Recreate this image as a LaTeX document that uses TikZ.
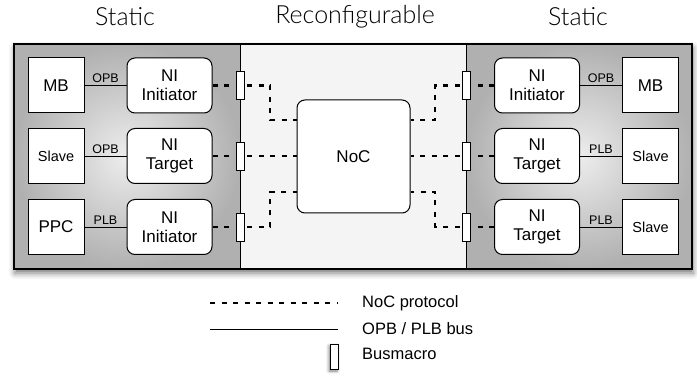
\documentclass[tikz,border=0pt]{standalone}
\usepackage{fontspec}
\setmainfont{Liberation Sans}
\newfontfamily\titlefont{Lato}[UprightFont=* Light]
\usetikzlibrary{positioning,shadows.blur}

\tikzset{
  plainbox/.style={draw, line width=1pt, fill=white, minimum width=56pt, minimum height=55pt, inner sep=0pt, font=\fontsize{17}{19}\selectfont},
  nibox/.style={plainbox, rounded corners=8pt, minimum width=85pt, align=center},
  busmacro/.style={draw, line width=0.8pt, fill=white, minimum width=8pt, minimum height=28pt, inner sep=0pt},
  nocline/.style={line width=2.8pt, dash pattern=on 5pt off 6.5pt},
  busline/.style={line width=0.8pt},
  buslabel/.style={above, inner sep=2pt, font=\fontsize{12.5}{13}\selectfont},
  title/.style={font=\titlefont\fontsize{25}{25}\selectfont},
  legendtext/.style={anchor=west, inner sep=0pt, font=\fontsize{16.5}{18}\selectfont},
}

\begin{document}
\begin{tikzpicture}[x=1pt,y=-1pt]
    \useasboundingbox (0,0) rectangle (697,377);
    % regions
    \fill[white, blur shadow={shadow xshift=1pt, shadow yshift=-4pt, shadow blur radius=6pt, shadow opacity=55}] (14,44) rectangle (692,269);
    \shade[inner color=gray!14, outer color=gray!62] (14,44) rectangle (240,269);
    \shade[inner color=gray!14, outer color=gray!62] (466,44) rectangle (692,269);
    \fill[gray!9] (240,44) rectangle (466,269);
    \draw[line width=1pt] (240,44) -- (240,269);
    \draw[line width=1pt] (466,44) -- (466,269);
    \draw[line width=1.4pt] (14,44) rectangle (692,269);
    \node[title] (tStaticL) at (125,17) {Static};
    \node[title] (tReconf) at (355,17) {Reconfigurable};
    \node[title] (tStaticR) at (578,17) {Static};
    % left static part
    \node[plainbox] (mbL) at (56,85.5) {MB};
    \node[plainbox, font=\fontsize{14.5}{16}\selectfont] (slaveL) at (56,156) {Slave};
    \node[plainbox] (ppcL) at (56,227) {PPC};
    \node[nibox] (niL1) at (169.5,85.5) {NI\\Initiator};
    \node[nibox] (niL2) at (169.5,156) {NI\\Target};
    \node[nibox] (niL3) at (169.5,227) {NI\\Initiator};
    \draw[busline] (mbL) -- node[buslabel] {OPB} (niL1);
    \draw[busline] (slaveL) -- node[buslabel] {OPB} (niL2);
    \draw[busline] (ppcL) -- node[buslabel] {PLB} (niL3);
    % right static part
    \node[nibox] (niR1) at (537,85.5) {NI\\Initiator};
    \node[nibox] (niR2) at (537,156) {NI\\Target};
    \node[nibox] (niR3) at (537,227) {NI\\Target};
    \node[plainbox] (mbR) at (650.5,85.5) {MB};
    \node[plainbox, font=\fontsize{14.5}{16}\selectfont] (slaveR1) at (650.5,156) {Slave};
    \node[plainbox, font=\fontsize{14.5}{16}\selectfont] (slaveR2) at (650.5,227) {Slave};
    \draw[busline] (niR1) -- node[buslabel] {OPB} (mbR);
    \draw[busline] (niR2) -- node[buslabel] {PLB} (slaveR1);
    \draw[busline] (niR3) -- node[buslabel] {PLB} (slaveR2);
    % reconfigurable part
    \node[plainbox, rounded corners=8pt, minimum width=113pt, minimum height=113pt] (noc) at (353.5,156.5) {NoC};
    \coordinate (bendL1) at (270,120);
    \coordinate (bendL3) at (270,192);
    \coordinate (bendR1) at (435,120);
    \coordinate (bendR3) at (435,192);
    \draw[nocline] (niL1.east) -| (bendL1) -- (bendL1 -| noc.west);
    \draw[nocline] (niL2.east) -- (niL2.east -| noc.west);
    \draw[nocline] (niL3.east) -| (bendL3) -- (bendL3 -| noc.west);
    \draw[nocline] (niR1.west) -| (bendR1) -- (bendR1 -| noc.east);
    \draw[nocline] (niR2.west) -- (niR2.west -| noc.east);
    \draw[nocline] (niR3.west) -| (bendR3) -- (bendR3 -| noc.east);
    % busmacros
    \foreach \y [count=\i] in {85.5,156,227} {
        \node[busmacro] (bmL\i) at (240,\y) {};
        \node[busmacro] (bmR\i) at (466,\y) {};
    }
    % legend
    \coordinate (lgA) at (210,303);
    \coordinate (lgB) at (338,303);
    \coordinate (lgC) at (210,329);
    \coordinate (lgD) at (338,329);
    \draw[nocline] (lgA) -- (lgB);
    \draw[busline] (lgC) -- (lgD);
    \node[busmacro, minimum height=25pt, blur shadow={shadow xshift=-1pt, shadow yshift=-2pt, shadow blur radius=3pt, shadow opacity=50}] (lgBm) at (334,356.5) {};
    \node[legendtext] (lgT1) at (362,303) {NoC protocol};
    \node[legendtext] (lgT2) at (362,329) {OPB / PLB bus};
    \node[legendtext] (lgT3) at (362,354) {Busmacro};
\end{tikzpicture}
\end{document}
